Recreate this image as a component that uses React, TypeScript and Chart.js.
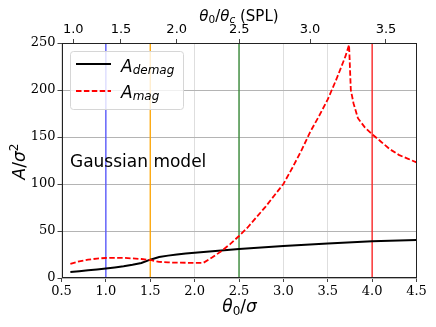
import React, { useEffect, useRef } from 'react';
import { Chart, registerables } from 'chart.js';
Chart.register(...registerables);

// ---- data ----
const demagX = [0.6, 0.7, 0.8, 0.9, 1.0, 1.1, 1.2, 1.3, 1.4, 1.5, 1.6, 1.7, 1.8, 1.9, 2.0, 2.2, 2.5, 3.0, 3.5, 4.0, 4.5];
const demagY = [6.5, 7.3, 8.2, 9.1, 10.2, 11.2, 12.4, 14, 16, 19.5, 22.3, 23.8, 25, 26, 26.8, 28.5, 30.8, 34, 36.8, 39, 40.5];
const magX = [0.6, 0.7, 0.8, 0.9, 1.0, 1.1, 1.2, 1.3, 1.4, 1.5, 1.6, 1.7, 1.8, 1.9, 2.0, 2.1, 2.2, 2.3, 2.4, 2.5, 2.6, 2.7, 2.8, 2.9, 3.0, 3.1, 3.2, 3.3, 3.4, 3.5, 3.6, 3.7, 3.74, 3.76, 3.79, 3.84, 3.92, 4.0, 4.1, 4.2, 4.3, 4.4, 4.5];
const magY = [15, 17.8, 19.5, 20.7, 21.3, 21.5, 21.4, 20.8, 20.2, 19.2, 17.2, 16.6, 16.3, 16.2, 16.1, 16.2, 22, 28.5, 36, 44.7, 54, 65, 76, 88, 100, 117, 135, 155, 172, 190, 212, 236, 248, 200, 186, 170, 160, 153, 145, 137, 131, 127, 123];
const vLineX = [1.0, 1.5, 2.5, 4.0];
const vLineColors = ['#5252ff', '#ffa500', '#2f862f', '#ff1a1a'];
const bottomTicks = [0.5, 1.0, 1.5, 2.0, 2.5, 3.0, 3.5, 4.0, 4.5];
const yTicks = [0, 50, 100, 150, 200, 250];
const topTickLabels = ['1.0', '1.5', '2.0', '2.5', '3.0', '3.5'];
const topTickAt = [0.633, 1.17, 1.798, 2.503, 3.30, 4.156];

type Run = { t: string; f: string; dy?: number };
const SANS = '"DejaVu Sans"';

function runsWidth(ctx: CanvasRenderingContext2D, runs: Run[]) {
  let w = 0;
  for (const r of runs) { ctx.font = r.f; w += ctx.measureText(r.t).width; }
  return w;
}
function drawRuns(ctx: CanvasRenderingContext2D, x: number, y: number, runs: Run[], align: 'left' | 'center' = 'left') {
  let cx = align === 'center' ? x - runsWidth(ctx, runs) / 2 : x;
  ctx.textAlign = 'left';
  ctx.textBaseline = 'alphabetic';
  for (const r of runs) {
    ctx.font = r.f;
    ctx.fillText(r.t, cx, y + (r.dy || 0));
    cx += ctx.measureText(r.t).width;
  }
}

const overlay = {
  id: 'overlay',
  afterDraw(chart: any) {
    const ctx: CanvasRenderingContext2D = chart.ctx;
    const a = chart.chartArea;
    ctx.save();
    // frame
    ctx.strokeStyle = '#222';
    ctx.lineWidth = 1;
    ctx.strokeRect(Math.round(a.left) + 0.5, Math.round(a.top) + 0.5, Math.round(a.right - a.left) - 1, Math.round(a.bottom - a.top) - 1);

    // legend
    const lx = 70.5, ly = 51.5, lw = 113, lh = 58, r = 3;
    ctx.beginPath();
    ctx.moveTo(lx + r, ly);
    ctx.arcTo(lx + lw, ly, lx + lw, ly + lh, r);
    ctx.arcTo(lx + lw, ly + lh, lx, ly + lh, r);
    ctx.arcTo(lx, ly + lh, lx, ly, r);
    ctx.arcTo(lx, ly, lx + lw, ly, r);
    ctx.closePath();
    ctx.fillStyle = 'rgba(255,255,255,0.8)';
    ctx.fill();
    ctx.strokeStyle = '#d6d6d6';
    ctx.stroke();

    ctx.lineWidth = 1.8;
    ctx.strokeStyle = '#000';
    ctx.setLineDash([]);
    ctx.beginPath(); ctx.moveTo(76, 64); ctx.lineTo(111, 64); ctx.stroke();
    ctx.strokeStyle = '#ff0000';
    ctx.setLineDash([5.5, 2.4]);
    ctx.beginPath(); ctx.moveTo(76, 91); ctx.lineTo(111, 91); ctx.stroke();
    ctx.setLineDash([]);

    ctx.fillStyle = '#000';
    drawRuns(ctx, 121, 71.5, [
      { t: 'A', f: `italic 17px ${SANS}` },
      { t: 'demag', f: `italic 12px ${SANS}`, dy: 2.5 },
    ]);
    drawRuns(ctx, 121, 97.5, [
      { t: 'A', f: `italic 17px ${SANS}` },
      { t: 'mag', f: `italic 12px ${SANS}`, dy: 2.5 },
    ]);

    // annotation
    ctx.font = `17px ${SANS}`;
    ctx.fillText('Gaussian model', 70, 166.5);

    // bottom title
    drawRuns(ctx, 239.5, 311.5, [
      { t: 'θ', f: `italic 17px ${SANS}` },
      { t: '0', f: `12px ${SANS}`, dy: 3 },
      { t: '/', f: `17px ${SANS}` },
      { t: 'σ', f: `italic 17px ${SANS}` },
    ], 'center');

    // top title
    drawRuns(ctx, 239, 20.5, [
      { t: 'θ', f: `italic 15px ${SANS}` },
      { t: '0', f: `10.5px ${SANS}`, dy: 2.5 },
      { t: '/', f: `15px ${SANS}` },
      { t: 'θ', f: `italic 15px ${SANS}` },
      { t: 'c', f: `italic 10.5px ${SANS}`, dy: 2.5 },
      { t: ' (SPL)', f: `15px ${SANS}` },
    ], 'center');

    // y title
    ctx.translate(25, 161.5);
    ctx.rotate(-Math.PI / 2);
    drawRuns(ctx, 0, 0, [
      { t: 'A', f: `italic 17px ${SANS}` },
      { t: '/', f: `17px ${SANS}` },
      { t: 'σ', f: `italic 17px ${SANS}` },
      { t: '2', f: `12px ${SANS}`, dy: -7 },
    ], 'center');
    ctx.restore();
  },
};

export default function App() {
  const ref = useRef<HTMLCanvasElement>(null);
  useEffect(() => {
    if (!ref.current) return;
    const vDatasets = vLineX.map((x, i) => ({
      label: 'v' + i,
      data: [{ x, y: 0 }, { x, y: 250 }],
      borderColor: vLineColors[i],
      borderWidth: 1.3,
      pointRadius: 0,
      xAxisID: 'x',
      yAxisID: 'y',
      order: 5,
    }));
    const chart = new Chart(ref.current, {
      type: 'line',
      data: {
        datasets: [
          ...vDatasets,
          {
            label: 'A_demag',
            data: demagX.map((x, i) => ({ x, y: demagY[i] })),
            borderColor: '#000',
            borderWidth: 2,
            pointRadius: 0,
            tension: 0,
            xAxisID: 'x',
            yAxisID: 'y',
            order: 1,
          },
          {
            label: 'A_mag',
            data: magX.map((x, i) => ({ x, y: magY[i] })),
            borderColor: '#ff0000',
            borderWidth: 1.8,
            borderDash: [5.5, 2.4],
            pointRadius: 0,
            tension: 0,
            xAxisID: 'x',
            yAxisID: 'y',
            order: 0,
          },
        ] as any,
      },
      options: {
        animation: false,
        responsive: false,
        devicePixelRatio: 1,
        layout: { padding: { left: 0, right: 19.5, top: 0, bottom: 0 } },
        plugins: { legend: { display: false }, tooltip: { enabled: false } },
        scales: {
          x: {
            type: 'linear',
            position: 'bottom',
            min: 0.5,
            max: 4.5,
            afterBuildTicks: (s: any) => { s.ticks = bottomTicks.map((v) => ({ value: v })); },
            afterFit: (s: any) => { s.height = 49; },
            ticks: {
              callback: (v: any) => Number(v).toFixed(1),
              font: { family: 'DejaVu Serif', size: 13 },
              color: '#000',
              padding: 2,
              maxRotation: 0,
              autoSkip: false,
            },
            grid: { color: '#dedede', lineWidth: 1, tickLength: 4, tickColor: '#444' },
            border: { display: false },
          },
          xTop: {
            type: 'linear',
            position: 'top',
            min: 0.5,
            max: 4.5,
            afterBuildTicks: (s: any) => { s.ticks = topTickAt.map((v) => ({ value: v })); },
            afterFit: (s: any) => { s.height = 43; },
            ticks: {
              callback: (_v: any, i: number) => topTickLabels[i],
              font: { family: 'DejaVu Sans', size: 13 },
              color: '#000',
              padding: 2,
              maxRotation: 0,
              autoSkip: false,
            },
            grid: { drawOnChartArea: false, tickLength: 4, tickColor: '#444' },
            border: { display: false },
          },
          y: {
            type: 'linear',
            position: 'left',
            min: 0,
            max: 250,
            afterBuildTicks: (s: any) => { s.ticks = yTicks.map((v) => ({ value: v })); },
            afterFit: (s: any) => { s.width = 61.5; },
            ticks: {
              font: { family: 'DejaVu Serif', size: 13 },
              color: '#000',
              padding: 2,
            },
            grid: { color: '#b4b4b4', lineWidth: 1, tickLength: 4, tickColor: '#444' },
            border: { display: false },
          },
        },
      } as any,
      plugins: [overlay],
    });
    return () => chart.destroy();
  }, []);
  return (
    <div style={{ position: 'absolute', left: 0, top: 0, width: 436, height: 327, background: '#fff' }}>
      <canvas ref={ref} width={436} height={327} style={{ width: 436, height: 327, display: 'block' }} />
    </div>
  );
}
